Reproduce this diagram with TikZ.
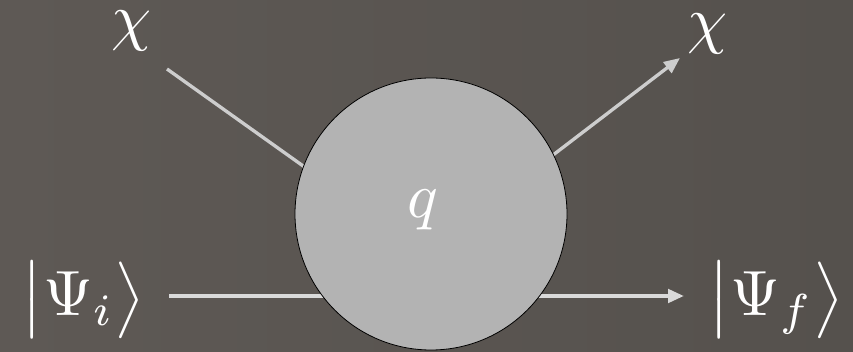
\documentclass[tikz,border=0pt]{standalone}
\usetikzlibrary{arrows.meta}
\definecolor{bgA}{RGB}{94,89,85}
\definecolor{bgB}{RGB}{85,81,77}
\definecolor{linegray}{RGB}{205,205,205}
\definecolor{linelight}{RGB}{218,218,218}
\definecolor{blobgray}{RGB}{179,179,179}
\tikzset{
  lbl/.style={text=white,inner sep=0pt,scale=4.8},
  wire/.style={draw=linegray,line width=2.5pt},
  wirelow/.style={draw=linelight,line width=2.8pt},
  tip/.style={-{Triangle[length=12pt,width=10pt]}},
  blob/.style={circle,draw=black,line width=0.6pt,fill=blobgray,minimum size=204pt,inner sep=0pt}
}
\begin{document}
\begin{tikzpicture}[x=0.75pt,y=-0.75pt]
\useasboundingbox (0,0) rectangle (853,352);
\shade[left color=bgA,right color=bgB] (0,0) rectangle (853,352);
% free ends
\coordinate (ul) at (167,69);
\coordinate (ulin) at (320,178);
\coordinate (urin) at (540,165);
\coordinate (ur) at (680,58);
\coordinate (ll) at (169,296);
\coordinate (llin) at (340,296);
\coordinate (lrin) at (520,296);
\coordinate (lr) at (684,296);
% connectors (behind the blob)
\draw[wire] (ul) -- (ulin);
\draw[wire,tip] (urin) -- (ur);
\draw[wirelow] (ll) -- (llin);
\draw[wirelow,tip] (lrin) -- (lr);
% blob
\node[blob] (q) at (431,214) {};
\node[lbl] (qlab) at (423,210) {$q$};
% labels
\node[lbl] (chiL) at (132,31) {$\chi$};
\node[lbl] (chiR) at (708,34) {$\chi$};
\node[lbl] (psiI) at (83,300) {$\bigl|\Psi_i\bigr\rangle$};
\node[lbl] (psiF) at (776,300) {$\bigl|\Psi_f\bigr\rangle$};
\end{tikzpicture}
\end{document}
